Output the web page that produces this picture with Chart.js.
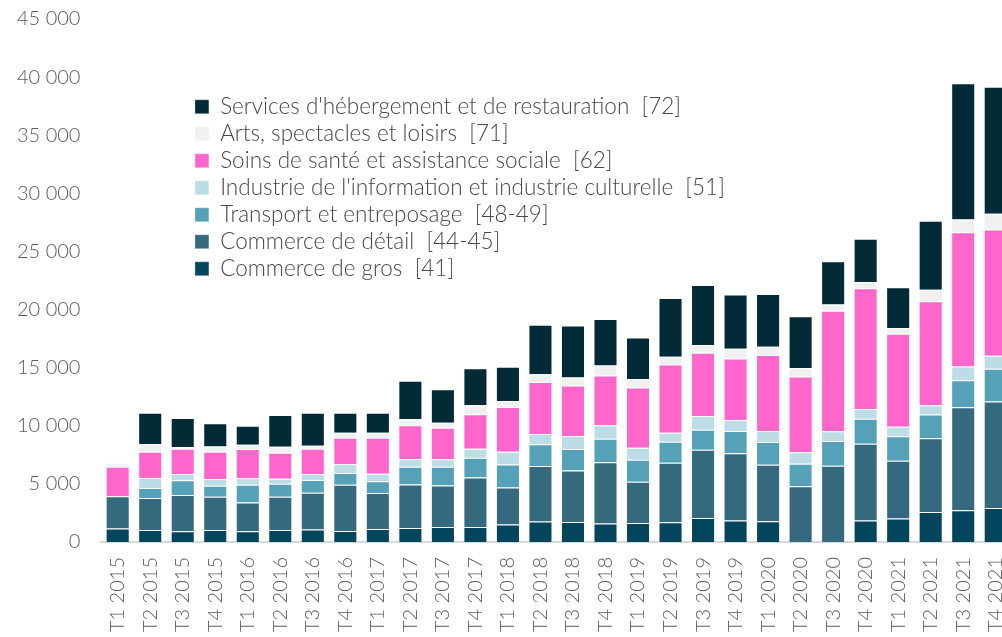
<!DOCTYPE html>
<html>
<head>
<meta charset="utf-8">
<script src="https://cdn.jsdelivr.net/npm/chart.js@4/dist/chart.umd.min.js"></script>
<style>
  html, body { margin: 0; padding: 0; background: #fff; overflow: hidden; }
  #box { width: 1014px; height: 652px; }
</style>
</head>
<body>
<div id="box"><canvas id="graficoEmplois"></canvas></div>
<script>
const trimestres = ['T1 2015','T2 2015','T3 2015','T4 2015','T1 2016','T2 2016','T3 2016','T4 2016',
  'T1 2017','T2 2017','T3 2017','T4 2017','T1 2018','T2 2018','T3 2018','T4 2018',
  'T1 2019','T2 2019','T3 2019','T4 2019','T1 2020','T2 2020','T3 2020','T4 2020',
  'T1 2021','T2 2021','T3 2021','T4 2021'];

const gros = [1150,1035,920,1035,920,1035,1070,950,1120,1210,1295,1295,1500,1760,1725,1590,
  1640,1700,2070,1845,1785,0,0,1845,2020,2590,2735,2935];
const detail = [2790,2760,3130,2850,2475,2850,3160,3970,3105,3745,3570,4260,3190,4770,4435,5265,
  3540,5115,5865,5780,4860,4805,6560,6610,4970,6335,8860,9145];
const transport = [0,860,1270,950,1525,1120,1095,1010,1010,1520,1605,1690,1985,1870,1840,2035,
  1900,1810,1725,1925,1955,1925,2130,2155,2105,2035,2330,2820];
const information = [0,860,520,575,575,430,520,750,630,665,640,775,1090,890,1120,1155,
  1035,775,1180,950,950,985,835,835,830,810,1175,1120];
const sante = [2530,2245,2185,2355,2500,2245,2185,2295,3105,2905,2725,2965,3855,4485,4340,4280,
  5175,5865,5435,5290,6530,6525,10380,10380,8000,8940,11560,10870];
const arts = [345,640,145,460,370,520,260,430,430,520,430,775,520,665,690,865,
  725,665,665,835,720,725,520,550,490,985,1095,1355];
const hebergement = [0,2730,2500,1985,1640,2735,2820,1725,1725,3305,2880,3190,2935,4255,4485,4005,
  3590,5065,5175,4660,4545,4450,3735,3710,3505,5955,11710,10925];

const series = [
  {nom: 'Commerce de gros  [41]', valeurs: gros, couleur: '#03455c'},
  {nom: 'Commerce de détail  [44-45]', valeurs: detail, couleur: '#356a7e'},
  {nom: 'Transport et entreposage  [48-49]', valeurs: transport, couleur: '#55a1b8'},
  {nom: "Industrie de l'information et industrie culturelle  [51]", valeurs: information, couleur: '#bcdde6'},
  {nom: 'Soins de santé et assistance sociale  [62]', valeurs: sante, couleur: '#ff66cc'},
  {nom: 'Arts, spectacles et loisirs  [71]', valeurs: arts, couleur: '#eff0f0'},
  {nom: "Services d'hébergement et de restauration  [72]", valeurs: hebergement, couleur: '#022a37'}
];

// legende dans la zone du graphique, decalee a la main
const spostaLegenda = {
  id: 'spostaLegenda',
  afterLayout: function(chart){
    const lg = chart.legend;
    lg.left = chart.chartArea.left + 89;
    lg.top = chart.chartArea.top + 72;
  }
};

function spazi(v){
  return String(v).replace(/\B(?=(\d{3})+(?!\d))/g, ' ');
}

function init(){
  const datasets = series.map(function(s){
    return {
      label: s.nom,
      data: s.valeurs,
      backgroundColor: s.couleur,
      borderColor: 'rgba(255,255,255,0.35)',
      borderWidth: 1,
      barPercentage: 0.74,
      categoryPercentage: 1
    };
  });

  new Chart(document.getElementById('graficoEmplois'), {
    type: 'bar',
    data: { labels: trimestres, datasets: datasets },
    options: {
      responsive: true,
      maintainAspectRatio: false,
      animation: false,
      layout: { padding: { left: -4, right: 2, top: 19, bottom: 5 } },
      plugins: {
        legend: {
          position: 'chartArea',
          align: 'start',
          reverse: true,
          labels: {
            boxWidth: 14,
            boxHeight: 14,
            padding: 4.5,
            color: '#474747',
            font: { family: 'Lato', size: 22.5, weight: 300 }
          }
        },
        tooltip: { enabled: false }
      },
      scales: {
        x: {
          stacked: true,
          grid: { display: false, drawTicks: false },
          border: { color: '#d9d9d9', width: 2 },
          ticks: {
            minRotation: 90,
            maxRotation: 90,
            padding: 15,
            color: '#5c5c5c',
            font: { family: 'Lato', size: 20, weight: 300 }
          },
          afterFit: function(s){ s.paddingLeft = 0; s.paddingRight = 0; }
        },
        y: {
          stacked: true,
          min: 0,
          max: 45000,
          grid: { display: false, drawTicks: false },
          border: { display: false },
          ticks: {
            stepSize: 5000,
            padding: 21,
            color: '#5c5c5c',
            font: { family: 'Lato', size: 20, weight: 300 },
            callback: function(v){ return spazi(v); }
          },
          afterFit: function(s){ s.paddingTop = 0; s.paddingBottom = 0; }
        }
      }
    },
    plugins: [spostaLegenda]
  });
}

init();
</script>
</body>
</html>
